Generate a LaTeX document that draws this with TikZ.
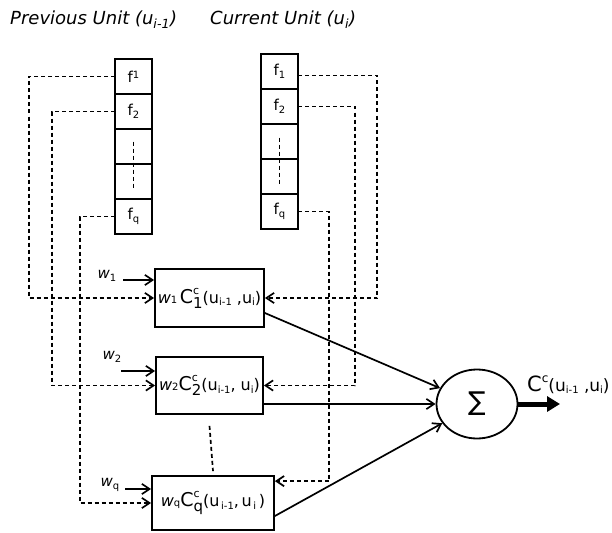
\documentclass[tikz,border=0pt]{standalone}
\usepackage{fontspec}
\setmainfont{DejaVu Sans}
\usetikzlibrary{arrows.meta,positioning,shapes.geometric}
\definecolor{cLine}{HTML}{000000}
\newcommand{\wterm}[1]{\textit{w}{\fontsize{10}{10}\selectfont #1}}
\newcommand{\cterm}[1]{{\fontsize{19}{19}\selectfont C}\rlap{\raisebox{9pt}{\fontsize{11}{11}\selectfont c}}\raisebox{-5pt}{\fontsize{15}{15}\selectfont #1}}
\newcommand{\sub}[1]{\raisebox{-2.5pt}{\fontsize{10}{10}\selectfont #1}}
\tikzset{
  >={Straight Barb[length=2.7mm,width=3.6mm]},
  cell/.style   ={draw,cLine,line width=1.8pt,minimum width=37pt,minimum height=35pt,
                  inner sep=0pt,outer sep=0pt,font=\fontsize{15}{15}\selectfont},
  wbox/.style   ={draw,cLine,line width=1.8pt,inner sep=0pt,font=\fontsize{16}{16}\selectfont},
  feat/.style   ={->,cLine,line width=1.7pt,dash pattern=on 4pt off 3pt},
  vdots/.style  ={cLine,line width=1.7pt,dash pattern=on 4pt off 3pt},
  wlab/.style   ={font=\fontsize{15}{15}\selectfont,inner sep=0pt},
  wt/.style     ={->,cLine,line width=1.7pt},
  sumin/.style  ={->,cLine,line width=1.7pt},
  unit/.style   ={font=\fontsize{18}{18}\selectfont\itshape,anchor=base west,inner sep=0pt},
}
\begin{document}
\begin{tikzpicture}[x=1pt,y=-1pt]
  \useasboundingbox (0,0) rectangle (612,532);
  % unit titles
  \node[unit] (tprev) at (10,25) {Previous Unit (u\textsubscript{i-1})};
  \node[unit] (tcur) at (210,25) {Current Unit (u\textsubscript{i})};
  % feature columns
  \node[cell] (p1) at (133.5,76.5) {f\raisebox{4pt}{\fontsize{10}{10}\selectfont 1}};
  \node[cell,below=0pt of p1] (p2) {f\sub{2}};
  \node[cell,below=0pt of p2] (p3) {};
  \node[cell,below=0pt of p3] (p4) {};
  \node[cell,below=0pt of p4] (p5) {f\sub{q}};
  \draw[vdots] ([yshift=5pt]p3.center) -- ([yshift=-7pt]p4.center);
  \node[cell] (r1) at (279.5,71.5) {f\sub{1}};
  \node[cell,below=0pt of r1] (r2) {f\sub{2}};
  \node[cell,below=0pt of r2] (r3) {};
  \node[cell,below=0pt of r3] (r4) {};
  \node[cell,below=0pt of r4] (r5) {f\sub{q}};
  \draw[vdots] ([yshift=4pt]r3.center) -- ([yshift=-7pt]r4.center);
  % weighted terms
  \node[wbox,minimum width=109pt,minimum height=58pt] (b1) at (209.5,298)
    {\wterm{1}\,\cterm{1}(u\sub{i-1} ,u\sub{i})};
  \node[wbox,minimum width=107pt,minimum height=57pt] (b2) at (209.5,385.5)
    {\wterm{2}\cterm{2}(u\sub{i-1}, u\sub{i})};
  \node[wbox,minimum width=122pt,minimum height=54pt] (bq) at (213,503)
    {\wterm{q}\cterm{q}(u\sub{\,i-1},\,u\sub{\,i}\,)};
  \draw[vdots] ([yshift=-11pt]b2.south) -- ([yshift=4pt]bq.north);
  % weights
  \node[wlab] (w1) at (107,276) {\textit{w}\sub{1}};
  \coordinate (w1s) at (123,280);
  \draw[wt] (w1s) -- (w1s -| b1.west);
  \node[wlab] (w2) at (112,357) {\textit{w}\sub{2}};
  \coordinate (w2s) at (121,371);
  \draw[wt] (w2s) -- (w2s -| b2.west);
  \node[wlab] (wq) at (110,485) {\textit{w}\sub{q}};
  \coordinate (wqs) at (125,489);
  \draw[wt] (wqs) -- (wqs -| bq.west);
  % features to terms
  \draw[feat] (p1.west) -- ++(-86,0) |- (b1.west);
  \draw[feat] (p2.west) -- ++(-63,0) |- (b2.west);
  \draw[feat] (p5.west) -- ++(-35,0) |- (bq.west);
  \draw[feat] ([yshift=-4pt]r1.east) -- ++(79,0) |- (b1.east);
  \draw[feat] (r2.east) -- ++(57,0) |- (b2.east);
  \draw[feat] (r5.east) -- ++(31,0) |- ([yshift=-6pt]bq.north east);
  % sum
  \node[draw,ellipse,cLine,line width=1.8pt,minimum width=81pt,minimum height=69pt,
        inner sep=0pt,font=\fontsize{26}{26}\selectfont] (sum) at (477,404) {∑};
  \draw[sumin] ([yshift=-15pt]b1.east) -- (sum);
  \draw[sumin] (sum.west -| b2.east) -- (sum.west);
  \draw[sumin] ([yshift=-13pt]bq.east) -- (sum);
  \coordinate (out) at (560,404);
  \draw[cLine,line width=5pt,-{Triangle[length=13pt,width=15pt]}] (sum.east) -- (out);
  \node[anchor=base west,inner sep=0pt,font=\fontsize{17}{17}\selectfont] (outl) at (527,391)
    {{\fontsize{21}{21}\selectfont C}\raisebox{9pt}{\fontsize{12}{12}\selectfont c}(u\sub{i-1} ,u\sub{i})};
\end{tikzpicture}
\end{document}
